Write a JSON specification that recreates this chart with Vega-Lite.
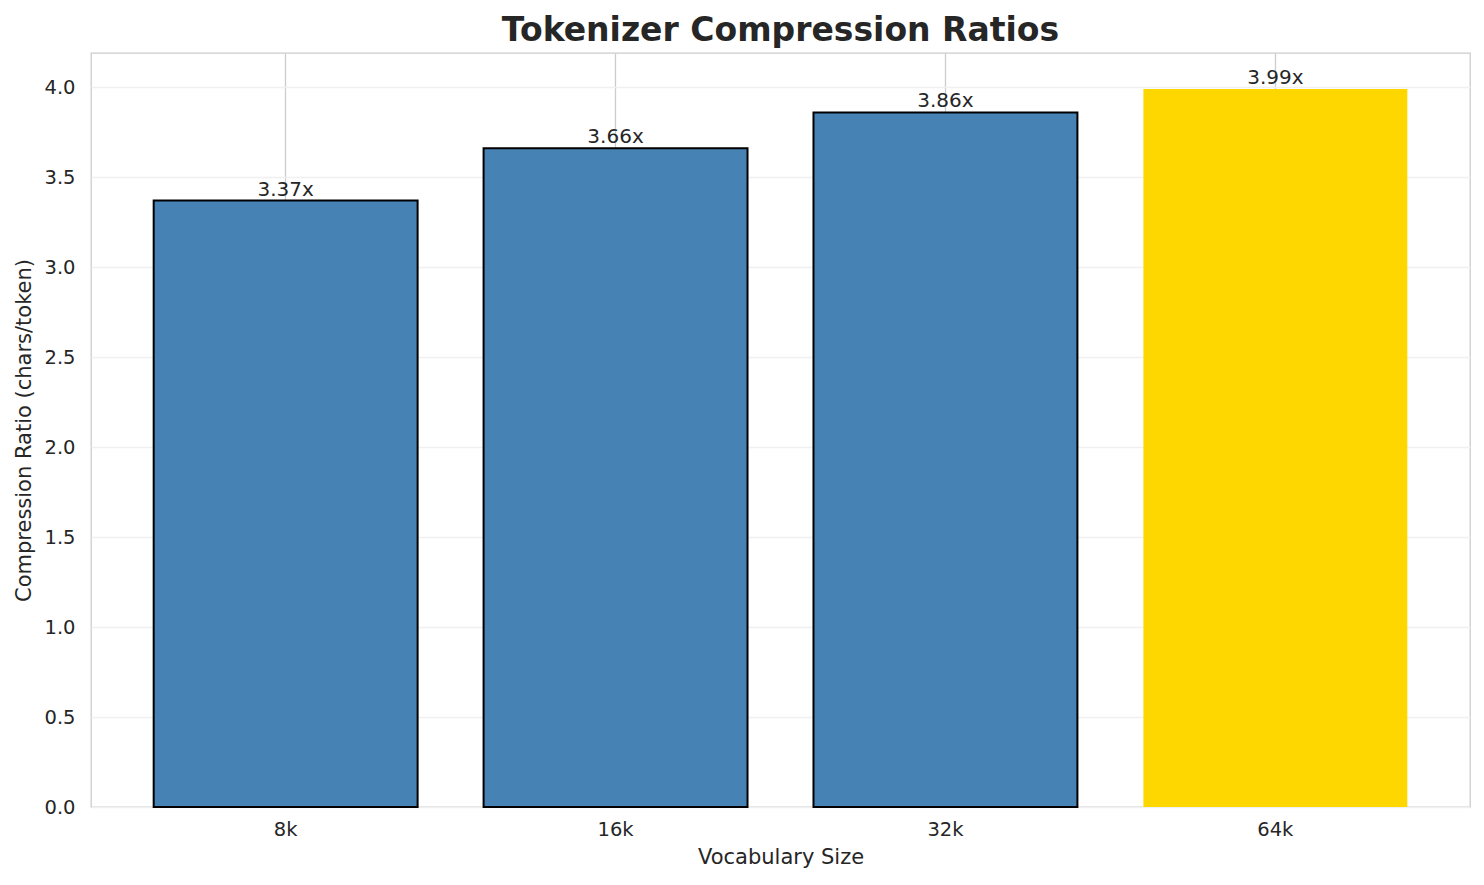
{
  "$schema": "https://vega.github.io/schema/vega-lite/v6.json",
  "autosize": {"type": "none"},
  "width": 1379,
  "height": 754,
  "padding": {"left": 91, "top": 53, "right": 14, "bottom": 78},
  "background": "white",
  "title": {
    "text": "Tokenizer Compression Ratios",
    "font": "DejaVu Sans",
    "fontSize": 33,
    "fontWeight": "bold",
    "color": "#262626",
    "anchor": "middle",
    "offset": 5
  },
  "config": {
    "view": {"stroke": "#cccccc", "strokeWidth": 1.3},
    "font": "DejaVu Sans",
    "axis": {
      "labelFont": "DejaVu Sans",
      "titleFont": "DejaVu Sans",
      "labelColor": "#262626",
      "titleColor": "#262626",
      "labelFontSize": 19.5,
      "titleFontSize": 21,
      "titleFontWeight": "normal",
      "domain": false,
      "ticks": false
    }
  },
  "data": {
    "values": [
      {"vocab": "8k", "ratio": 3.37},
      {"vocab": "16k", "ratio": 3.66},
      {"vocab": "32k", "ratio": 3.86},
      {"vocab": "64k", "ratio": 3.99}
    ]
  },
  "encoding": {
    "x": {
      "field": "vocab",
      "type": "nominal",
      "sort": null,
      "scale": {"paddingInner": 0.2, "paddingOuter": 0.19},
      "axis": {
        "title": "Vocabulary Size",
        "labelAngle": 0,
        "labelPadding": 13,
        "titlePadding": 8,
        "grid": true,
        "bandPosition": 0.5,
        "gridColor": "#cccccc",
        "gridWidth": 1.3
      }
    },
    "y": {
      "field": "ratio",
      "type": "quantitative",
      "scale": {"domain": [0, 4.19], "nice": false},
      "axis": {
        "title": "Compression Ratio (chars/token)",
        "values": [0, 0.5, 1, 1.5, 2, 2.5, 3, 3.5, 4],
        "format": ".1f",
        "labelPadding": 16,
        "titlePadding": 9,
        "gridColor": "#f0f0f0",
        "gridWidth": 1.3
      }
    }
  },
  "layer": [
    {
      "mark": {"type": "bar", "strokeWidth": 2},
      "encoding": {
        "color": {
          "condition": {"test": "datum.vocab === '64k'", "value": "#FFD700"},
          "value": "#4682B4"
        },
        "stroke": {
          "condition": {"test": "datum.vocab === '64k'", "value": null},
          "value": "black"
        }
      }
    },
    {
      "transform": [
        {"calculate": "format(datum.ratio, '.2f') + 'x'", "as": "label"}
      ],
      "mark": {
        "type": "text",
        "baseline": "alphabetic",
        "align": "center",
        "dy": -5,
        "fontSize": 20,
        "color": "#262626"
      },
      "encoding": {
        "text": {"field": "label", "type": "nominal"}
      }
    }
  ]
}
